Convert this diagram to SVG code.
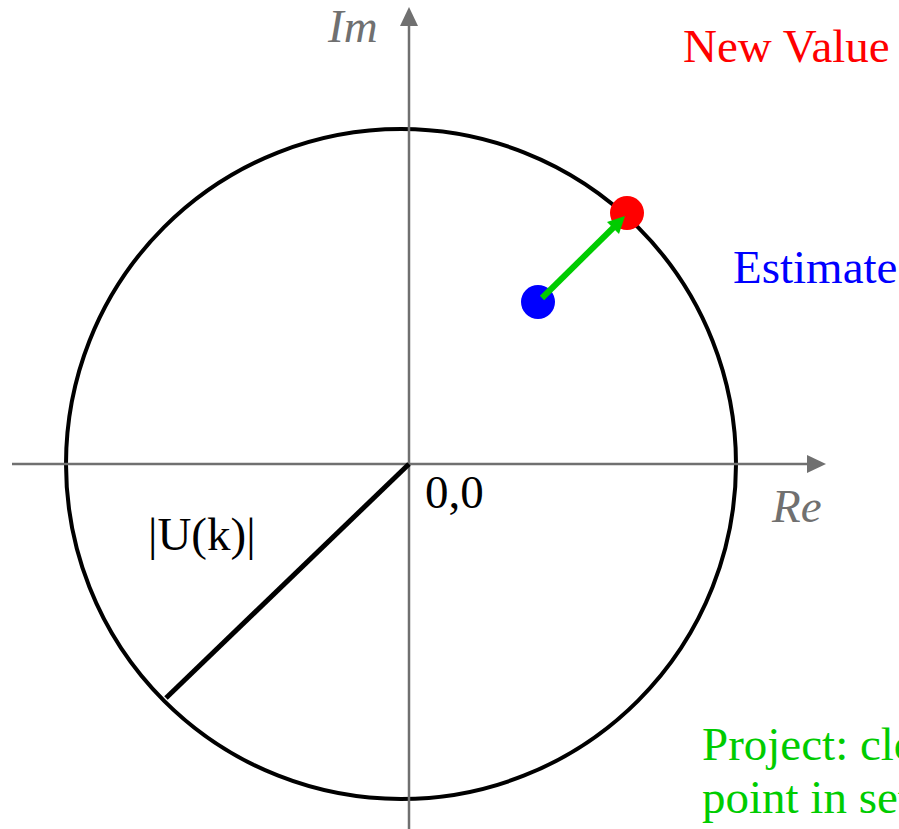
<svg xmlns="http://www.w3.org/2000/svg" width="899" height="829" viewBox="0 0 899 829">
<style>
text { font-family: "Liberation Serif", "Times New Roman", serif; font-size: 47px; }
.axis { stroke: #707070; stroke-width: 2.5; fill: none; }
.axhead { fill: #707070; }
.axlbl { fill: #707070; font-style: italic; }
</style>
<rect width="899" height="829" fill="#ffffff"/>
<g id="circle"><circle cx="401" cy="464" r="335" fill="none" stroke="#000" stroke-width="4"/></g>
<g id="connectors">
<line class="axis" x1="12" y1="464" x2="810" y2="464"/>
<polygon class="axhead" points="826,464 807,455 807,473"/>
<line class="axis" x1="409" y1="829" x2="409" y2="22"/>
<polygon class="axhead" points="409,7 400,26 418,26"/>
<line x1="409" y1="464" x2="166" y2="698" stroke="#000" stroke-width="5"/>
</g>
<g id="newvalue-dot"><circle cx="627" cy="213" r="17" fill="#ff0000"/></g>
<g id="estimate-dot"><circle cx="538" cy="302" r="17" fill="#0000ff"/></g>
<g id="projection-arrow">
<line x1="542" y1="298" x2="615" y2="226" stroke="#00cc00" stroke-width="6"/>
<polygon points="625,216 607,222 619,234" fill="#00cc00"/>
</g>
<g id="labels">
<text class="axlbl" x="328" y="42">Im</text>
<text class="axlbl" x="772" y="522">Re</text>
<text x="425" y="508">0,0</text>
<text x="148" y="550">|U(k)|</text>
<text x="683" y="62" fill="#ff0000">New Value</text>
<text x="733" y="283" fill="#0000ff">Estimate</text>
<text x="702" y="760" fill="#00cc00">Project: closest</text>
<text x="702" y="813" fill="#00cc00">point in set</text>
</g>
</svg>
